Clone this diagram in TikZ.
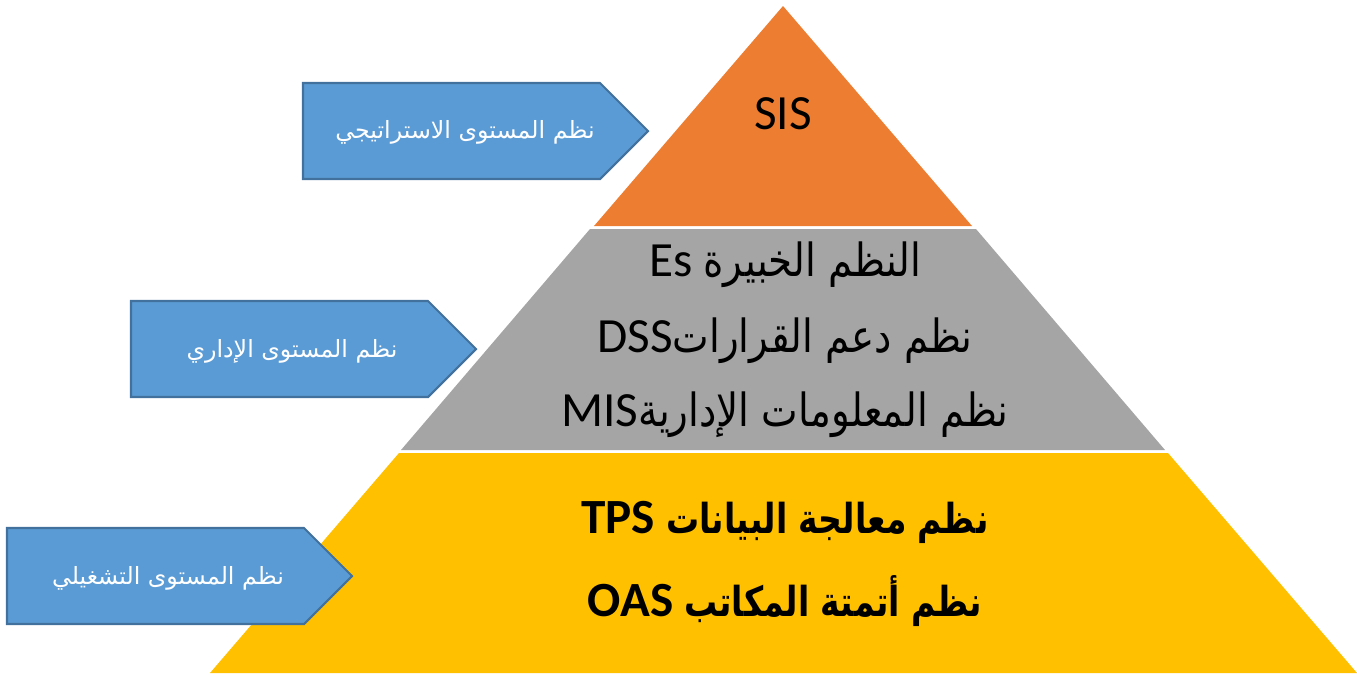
\documentclass[tikz,border=0pt]{standalone}
\usepackage{fontspec}
\setmainfont{Carlito}
\newfontfamily\arabicfont[Script=Arabic]{DejaVu Sans}
\newfontfamily\arabicnarrow[Script=Arabic,FakeStretch=0.85]{DejaVu Sans}
\newfontfamily\arabicbold[Script=Arabic,FakeStretch=0.8]{DejaVu Sans Bold}
\TeXXeTstate=1

\definecolor{sisorange}{HTML}{ED7D31}
\definecolor{midgrey}{HTML}{A5A5A5}
\definecolor{opyellow}{HTML}{FFC000}
\definecolor{levelblue}{HTML}{5B9BD5}
\definecolor{levelborder}{HTML}{41719C}

\newcommand{\midar}[1]{{\arabicnarrow\fontsize{26}{30}\selectfont #1}}
\newcommand{\lowar}[1]{{\arabicbold\fontsize{23.5}{28}\selectfont #1}}

\tikzset{
  levelarrow/.style={fill=levelblue, draw=levelborder, line width=1.2pt, line join=miter},
  leveltext/.style={text=white, font=\arabicfont\fontsize{13.5}{16}\selectfont},
  layertext/.style={text=black, font=\fontsize{28}{32}\selectfont},
}

\begin{document}
\begin{tikzpicture}[x=0.02cm,y=-0.02cm]
  \useasboundingbox (0,0) rectangle (1357,677);

  % Pyramid layers
  \fill[sisorange] (783,6) -- (972,226) -- (594,226) -- cycle;
  \fill[midgrey] (590,229) -- (976,229) -- (1165,450) -- (401,450) -- cycle;
  \fill[opyellow] (399,453) -- (1168,453) -- (1357,673) -- (210,673) -- cycle;

  % Level arrows
  \draw[levelarrow] (303,83) -- (600,83) -- (648,131) -- (600,179) -- (303,179) -- cycle;
  \draw[levelarrow] (131,301) -- (428,301) -- (476,349) -- (428,397) -- (131,397) -- cycle;
  \draw[levelarrow] (7,528) -- (304,528) -- (352,576) -- (304,624) -- (7,624) -- cycle;

  % Arrow labels
  \node[leveltext] (strategic) at (465,132) {\beginR نظم المستوى الاستراتيجي\endR};
  \node[leveltext] (managerial) at (292,351) {\beginR نظم المستوى الإداري\endR};
  \node[leveltext] (operational) at (168,578) {\beginR نظم المستوى التشغيلي\endR};

  % Layer labels
  \node[layertext] (sis) at (783,114) {SIS};
  \node[layertext] (es) at (785,265) {\beginR\midar{النظم الخبيرة} Es\endR};
  \node[layertext] (dss) at (785,341) {\beginR\midar{نظم دعم القرارات}DSS\endR};
  \node[layertext] (mis) at (785,415) {\beginR\midar{نظم المعلومات الإدارية}MIS\endR};
  \node[layertext, font=\bfseries\fontsize{28}{32}\selectfont] (tps) at (785,522) {\beginR\lowar{نظم معالجة البيانات} TPS\endR};
  \node[layertext, font=\bfseries\fontsize{28}{32}\selectfont] (oas) at (785,601) {\beginR\lowar{نظم أتمتة المكاتب} OAS\endR};
\end{tikzpicture}
\end{document}
